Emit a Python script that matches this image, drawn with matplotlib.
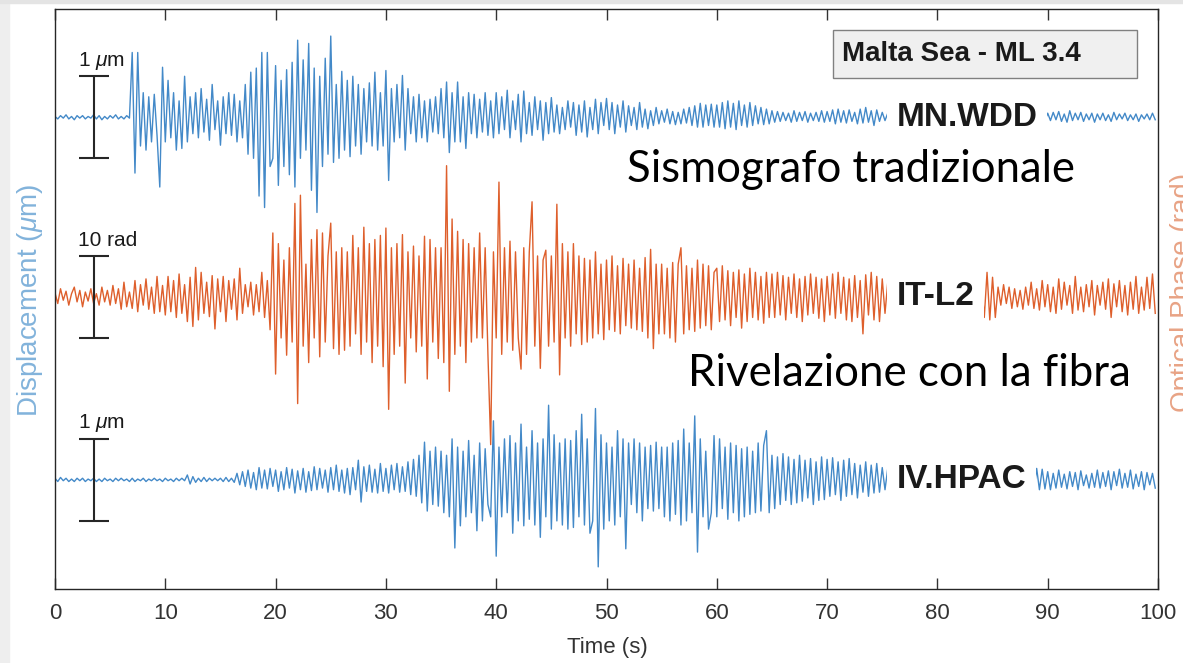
import matplotlib
matplotlib.use("Agg")
import matplotlib.pyplot as plt
import numpy as np
from matplotlib.patches import Rectangle

# ---- data: traces sampled every 0.25 s, values in % of the scale bar
# (1 um for the seismometers, 10 rad for the fibre), one line = 5 s
dt = 0.25

wdd = [
    1, -2, 2, -1, 3, -2, 1, -3, 2, -1, 2, -2, 1, -1, 3, -2, 2, -3, 1, -2,
    2, -1, 3, -2, 1, -2, 2, -1, 79, -68, 79, -35, 30, -40, 25, -30, 28, -22, -85, 61,
    -30, 45, -25, 30, -40, 20, -38, 50, -30, 25, -20, 30, -25, 35, -18, 22, -28, 40, -15, 20,
    -34, 25, -20, 30, -22, 28, -30, 20, -25, 40, -45, 55, -50, 60, -96, 79, -110, 79, -60, -50,
    63, -83, 45, -60, 58, -70, 67, -85, 94, -50, 70, -40, 90, -89, 60, -116, 50, -60, 72, -45,
    99, -55, 40, -50, 56, -40, 45, -48, 50, -35, 40, -45, 35, -30, 42, -35, 55, -40, 30, -35,
    57, -77, 35, -30, 40, -25, 51, -40, 35, -20, 25, -30, 28, -25, 20, -30, 22, -18, 25, -20,
    35, -25, 43, -43, 30, -30, 43, -30, 25, -38, 30, -20, 28, -25, 22, -18, 30, -22, 20, -25,
    30, -20, 25, -15, 33, -25, 20, -15, 28, -30, 32, -20, 18, -22, 25, -15, 20, -28, 18, -20,
    24, -18, 15, -20, 12, -15, 20, -12, 18, -22, 15, -18, 20, -24, 12, -15, 22, -20, 18, -10,
    23, -15, 18, -20, 15, -12, 20, -18, 14, -10, 12, -15, 18, -12, 10, -14, 8, -10, 12, -8,
    8, -6, 10, -8, 7, -9, 6, -8, 10, -7, 12, -10, 14, -12, 17, -12, 15, -10, 16, -12,
    15, -12, 18, -14, 20, -12, 17, -15, 20, -10, 15, -12, 18, -10, 14, -8, 12, -9, 10, -8,
    8, -6, 7, -5, 6, -4, 5, -6, 8, -5, 6, -4, 7, -6, 5, -4, 6, -5, 8, -6,
    7, -5, 9, -8, 10, -6, 8, -7, 9, -5, 6, -8, 10, -7, 12, -6, 8, -10, 9, -5,
    6, -4, 5, -4, 4, -3, 5, -4, 4, -3, 4, -3, 5, -4, 4, -3, 5, -4, 4, -3,
    4, -3, 5, -4, 4, -3, 5, -3, 4, -4, 5, -3, 4, -3, 5, -4, 4, -3, 5, -4,
    4, -3, 5, -4, 4, -3, 4, -3, 5, -4, 4, -3, 5, -4, 4, -3, 5, -3, 4, -4,
    5, -4, 6, -3, 7, -5, 4, -6, 8, -4, 5, -3, 6, -5, 4, -3, 5, -6, 4, -3,
    5, -4, 3, -5, 6, -3, 4, -2, 5, -4, 3, -3, 4, -5, 3, -2, 4, -3, 5, -3,
]

l2 = [
    5, -8, 10, -4, 7, -10, 4, 12, -6, 8, -12, 6, -5, 10, -8, 4, -10, 12, -6, 8,
    -10, 14, -8, 10, -15, 18, -12, 6, -14, 20, -18, 15, -10, 22, -15, 12, -20, 25, -18, 14,
    -22, 25, -18, 20, -25, 28, -20, 15, -30, 24, -36, 36, -28, 30, -20, 18, -24, 26, -39, 22,
    -18, 25, -30, 20, -15, 22, -28, 35, -20, 15, -12, 18, -22, 15, -18, 30, -25, 20, -40, 78,
    -94, 65, -50, 45, -71, 60, -55, 114, -130, 124, -60, 40, -80, 70, -50, 82, -73, 78, -55, 50,
    90, -63, 55, -70, 60, -65, 55, -60, 75, -45, 60, -70, 85, -55, 65, -80, 70, -60, 75, -85,
    84, -137, 60, -70, 65, -60, 76, -105, 55, -50, 62, -67, 50, -60, 74, -100, 70, -55, 60, -75,
    60, -80, 160, -115, 95, -70, 80, -60, 70, -80, 65, -55, 60, -50, 78, -50, 60, -70, -180, 55,
    -50, 140, -70, 60, -55, 68, -65, 55, -50, -88, 60, -70, 55, 116, -60, 50, -87, 45, 57, -60,
    50, -55, 113, -95, 65, -50, 55, -60, 65, -45, 50, -58, 47, -55, 45, -50, 55, -45, 40, -52,
    45, -40, 50, -42, 38, -45, 47, -35, 40, -38, 45, -40, 35, -42, 48, -50, 58, -63, 40, -45,
    40, -45, 35, -50, 42, -55, 40, 60, -45, 38, -40, 35, -42, 45, -38, 40, -35, 38, -40, 30,
    35, -30, 38, -28, 32, -35, 30, -25, 33, -38, 28, -30, 35, -25, 30, -28, 25, -32, 30, -25,
    28, -25, 30, -22, 26, -28, 24, -20, 28, -25, 22, -30, 25, -22, 28, -20, 24, -26, 22, -30,
    25, -22, 28, -26, 30, -20, 24, -28, 22, -30, 26, -25, 20, -45, 27, -22, 30, -28, 25, -30,
    22, -20, 18, -22, 20, -18, 22, -20, 18, -22, 20, -18, 22, -20, 18, -22, 20, -18, 22, -20,
    20, -18, 22, -20, 18, -22, 20, -18, 22, -20, 18, -22, 20, -18, 22, -20, 18, -25, 30, -28,
    24, -25, 12, -10, 15, -8, 12, -14, 10, -12, 8, -15, 12, -10, 18, -14, 10, -16, 20, -12,
    15, -18, 12, -20, 22, -15, 18, -10, 14, -20, 25, -16, 12, -18, 15, -12, 20, -22, 14, -10,
    18, -15, 22, -25, 16, -12, 20, -18, 14, -22, 18, -15, 25, -20, 12, -16, 24, -14, 28, -20,
]

hpac = [
    2, -2, 3, -1, 2, -2, 1, -2, 2, -1, 2, -2, 1, -1, 2, -2, 1, -2, 2, -1,
    1, -2, 2, -1, 2, -1, 1, -2, 2, -2, 1, -1, 2, -2, 1, -1, 2, -1, 1, -2,
    2, -1, 1, -2, 2, -1, 2, -1, 6, -5, 4, -3, 2, -2, 3, -2, 2, -1, 2, -1,
    2, -2, 3, -2, 2, -3, 8, -6, 10, -8, 12, -10, 9, -12, 15, -10, 12, -11, 14, -8,
    12, -14, 10, -12, 15, -10, 13, -16, 11, -12, 14, -15, 10, -13, 16, -12, 14, -10, 12, -15,
    15, -12, 18, -14, 12, -16, 14, -18, 15, -12, 24, -27, 16, -14, 18, -15, 13, -16, 20, -14,
    14, -16, 18, -12, 20, -15, 16, -14, 22, -18, 25, -20, 30, -28, 46, -38, 35, -30, 40, -32,
    35, -40, 30, -45, 50, -83, 40, -56, 35, -45, 48, -40, 30, -62, 45, -50, 38, -30, -45, 72,
    -93, 40, -45, 50, -40, 54, -65, 45, -50, 68, -56, 40, -48, 60, -55, 45, -70, 50, -45, 91,
    -60, 55, -50, 45, -55, 50, -60, 48, -58, 60, -45, 80, -55, 50, -65, -50, 87, -106, 55, -60,
    45, -50, 40, -55, 60, -45, 50, -84, 45, -30, 50, -40, 45, -50, 40, -35, 42, -38, 46, -35,
    40, -45, 40, -50, 45, -42, 48, -55, 62, -50, 45, -40, 78, -88, 50, -45, 35, -60, -40, 54,
    -45, 50, -35, 40, -48, 45, -40, 42, -50, 38, -45, 40, -42, 35, -40, 45, -38, 42, 60, -40,
    30, -35, 28, -30, 32, -25, 28, -30, 25, -28, 30, -26, 24, -22, 26, -30, 22, -25, 28, -24,
    25, -20, 27, -18, 22, -25, 24, -20, 26, -18, 20, -22, 18, -15, 22, -20, 18, -16, 20, -15,
    15, -12, 14, -13, 12, -14, 15, -12, 13, -14, 12, -15, 14, -12, 13, -14, 12, -13, 15, -12,
    14, -12, 13, -15, 12, -14, 13, -12, 14, -13, 12, -15, 13, -12, 14, -13, 12, -14, 13, -12,
    12, -14, 15, -12, 13, -11, 14, -13, 12, -15, 13, -12, 11, -14, 12, -13, 14, -12, 13, -11,
    10, -12, 8, -10, 12, -9, 7, -11, 10, -8, 9, -12, 11, -7, 6, -10, 8, -9, 12, -10,
    9, -8, 11, -12, 10, -7, 13, -10, 8, -9, 12, -11, 7, -8, 10, -12, 9, -6, 8, -10,
]

stations = ["MN.WDD", "IT-L2", "IV.HPAC"]
scale_labels = [r"1 $\mu$m", "10 rad", r"1 $\mu$m"]
traces = [wdd, l2, hpac]
baselines = [5.75, 3.56, 1.33]
colors = ["#4389c8", "#de5f2c", "#4389c8"]

plt.rcParams['font.family'] = ['Liberation Sans', 'DejaVu Sans']
plt.rcParams['mathtext.fontset'] = 'custom'
plt.rcParams['mathtext.rm'] = 'Liberation Sans'
plt.rcParams['mathtext.it'] = 'Liberation Sans:italic'

W, H = 1183, 663
fig = plt.figure(figsize=(W / 100, H / 100), dpi=100)
ax = fig.add_axes([55 / W, (H - 589) / H, 1103 / W, 580 / H])

# light grey page edge on the left and top
fig.patches.append(Rectangle((0, 0), 9 / W, 1, transform=fig.transFigure,
                             color='#eeeeee', zorder=0))
fig.patches.append(Rectangle((0, 1 - 3 / H), 1, 3 / H, transform=fig.transFigure,
                             color='#e4e4e4', zorder=0))

# traces
for vals, base, col in zip(traces, baselines, colors):
    t = np.arange(len(vals)) * dt
    ax.plot(t, base + np.array(vals) / 100.0, color=col, lw=1.0, zorder=2)

# scale bars and their labels
for base, lab in zip(baselines, scale_labels):
    ax.errorbar([3.55], [base], yerr=[0.5], fmt='none', ecolor='#262626',
                elinewidth=1.5, capsize=11, capthick=1.5, zorder=3)
    ax.text(2.1, base + 0.69, lab, fontsize=15, ha='left', va='center', color='#1a1a1a')

# station names on a white background hiding the trace
for base, name in zip(baselines, stations):
    ax.text(76.3, base, name, fontsize=24, fontweight='bold', ha='left', va='center',
            color='#1a1a1a', zorder=4,
            bbox=dict(boxstyle='square,pad=0.28', fc='white', ec='none'))

# event box
ax.add_patch(Rectangle((0.7053, 0.881), 0.2756, 0.0828, transform=ax.transAxes,
                       fc='#f0f0f0', ec='#808080', lw=1, zorder=4))
ax.text(0.7135, 0.922, "Malta Sea - ML 3.4", transform=ax.transAxes, fontsize=20,
        fontweight='bold', ha='left', va='center', color='#1a1a1a', zorder=5)

# annotations in Italian
t1 = ax.text(51.86, 4.96, "Sismografo tradizionale", fontfamily='Lato', fontsize=30,
             ha='left', va='baseline', color='black', zorder=5)
t2 = ax.text(57.4, 2.48, "Rivelazione con la fibra", fontfamily='Lato', fontsize=30,
             ha='left', va='baseline', color='black', zorder=5)

# axes styling
ax.set_xlim(0, 100)
ax.set_ylim(0, 7.07)
ax.set_xticks(np.arange(0, 101, 10))
ax.set_yticks([])
ax.tick_params(axis='x', direction='in', top=True, length=8, width=1,
               labelsize=16, pad=10, colors='#333333')
for s in ax.spines.values():
    s.set_color('#262626')
    s.set_linewidth(1)

ax.set_xlabel("Time (s)", fontsize=16, color='#333333')
ax.xaxis.set_label_coords((607 - 55) / 1103, (589 - 648) / 580)
ax.xaxis.label.set_va('center')

ax.set_ylabel(r"Displacement ($\mu$m)", fontsize=20, color='#82b3db')
ax.yaxis.set_label_coords((30 - 55) / 1103, (589 - 300) / 580)
ax.yaxis.label.set_va('center')

ax2 = ax.twinx()
ax2.set_yticks([])
ax2.set_ylabel("Optical Phase (rad)", fontsize=20, color='#e8a385', rotation=90)
ax2.yaxis.set_label_coords((1183 - 55) / 1103, (589 - 292) / 580)
ax2.yaxis.label.set_va('center')
for s in ax2.spines.values():
    s.set_visible(False)

# fit the big annotation texts to their measured widths
renderer = fig.canvas.get_renderer()
for txt, width_px in [(t1, 448), (t2, 442)]:
    bb = txt.get_window_extent(renderer)
    txt.set_fontsize(txt.get_fontsize() * width_px / bb.width)

fig.savefig("out.png", dpi=100)
